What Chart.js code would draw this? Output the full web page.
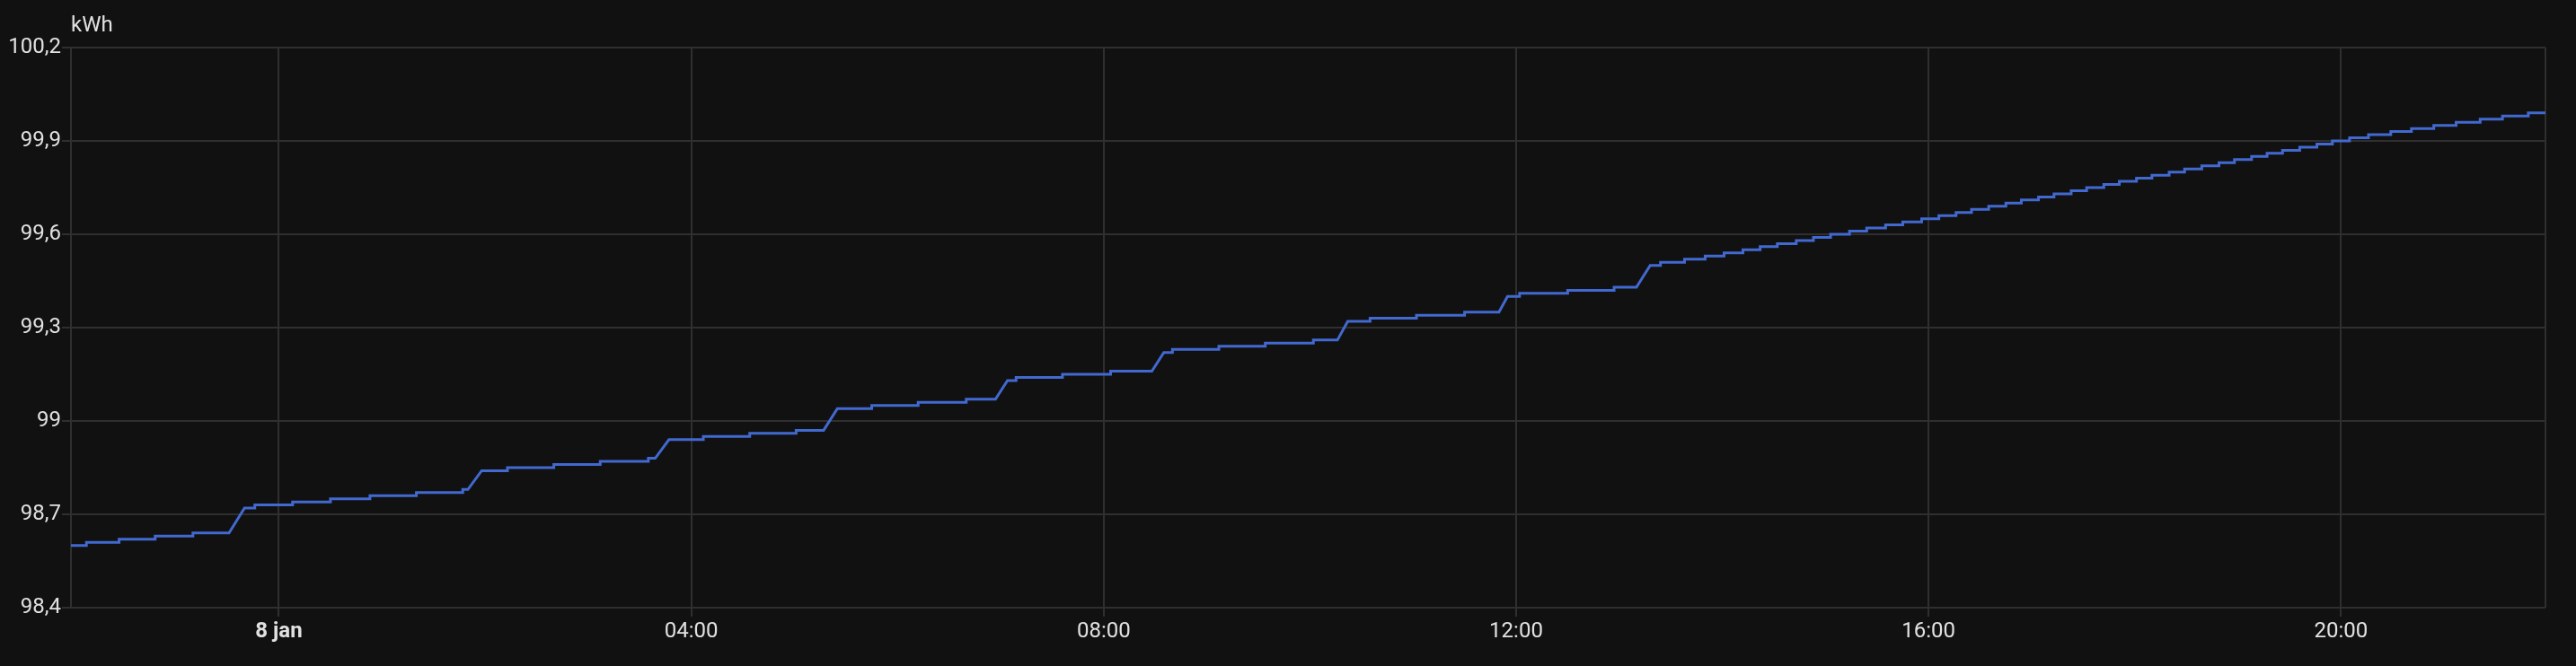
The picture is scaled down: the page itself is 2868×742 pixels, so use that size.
<!DOCTYPE html>
<html lang="nl">
<head>
<meta charset="UTF-8">
<title>Energie</title>
<script src="https://cdn.jsdelivr.net/npm/chart.js"></script>
<style>
  * { margin: 0; padding: 0; }
  body { background-color: #111111; }
  .grafiek { width: 2868px; height: 742px; position: relative; }
</style>
</head>
<body>
<div class="grafiek"><canvas id="energie"></canvas></div>
<script>
// meter readings: minutes since 8 jan 00:00 (negative = 7 jan) and kWh from that moment on
const readingMinutes = [
  -121, -112, -93, -72, -50, -29, -20, -14, 8, 30, 53, 80, 107, 110, 118,
  133, 160, 187, 215, 219, 227, 247, 274, 301, 317, 325, 345, 372, 400, 417, 424,
  429, 456, 484, 508, 515, 520, 547, 574, 602, 616, 622, 635, 662, 690, 710, 715,
  722, 750, 777, 790, 798,
  804, 818, 830, 841, 852, 862, 872, 883, 893, 903, 914, 924, 935, 945, 956, 966,
  976, 985, 995, 1005, 1014, 1024, 1033, 1043, 1052, 1062, 1071, 1081, 1090, 1100,
  1109, 1119, 1129, 1138, 1148, 1157, 1166, 1176, 1186, 1195, 1205, 1216, 1229, 1241,
  1254, 1267, 1281, 1294, 1309, 1319
];
const readingKwh = [
  98.60, 98.61, 98.62, 98.63, 98.64, 98.64, 98.72, 98.73, 98.74, 98.75, 98.76, 98.77, 98.78, 98.78, 98.84,
  98.85, 98.86, 98.87, 98.88, 98.88, 98.94, 98.95, 98.96, 98.97, 98.97, 99.04, 99.05, 99.06, 99.07, 99.07, 99.13,
  99.14, 99.15, 99.16, 99.16, 99.22, 99.23, 99.24, 99.25, 99.26, 99.26, 99.32, 99.33, 99.34, 99.35, 99.35, 99.40,
  99.41, 99.42, 99.43, 99.43, 99.50,
  99.51, 99.52, 99.53, 99.54, 99.55, 99.56, 99.57, 99.58, 99.59, 99.60, 99.61, 99.62, 99.63, 99.64, 99.65, 99.66,
  99.67, 99.68, 99.69, 99.70, 99.71, 99.72, 99.73, 99.74, 99.75, 99.76, 99.77, 99.78, 99.79, 99.80,
  99.81, 99.82, 99.83, 99.84, 99.85, 99.86, 99.87, 99.88, 99.89, 99.90, 99.91, 99.92, 99.93, 99.94,
  99.95, 99.96, 99.97, 99.98, 99.99, 99.99
];
// readings reached by a steady climb instead of a step
const rampEnds = [-20, 118, 227, 325, 424, 515, 622, 715, 798];

const xMin = -121, xMax = 1319;
const xTicks = [0, 240, 480, 720, 960, 1200];
const xLabels = ['8 jan', '04:00', '08:00', '12:00', '16:00', '20:00'];
const yTicks = [98.4, 98.7, 99, 99.3, 99.6, 99.9, 100.2];
const unit = 'kWh';

const gridColor = '#2f2f2f';
const textColor = '#e1e1e1';

let punten = [{ x: readingMinutes[0], y: readingKwh[0] }];
for (let i = 1; i < readingMinutes.length; i++) {
  if (!rampEnds.includes(readingMinutes[i])) {
    punten.push({ x: readingMinutes[i], y: readingKwh[i - 1] });
  }
  punten.push({ x: readingMinutes[i], y: readingKwh[i] });
}

const unitLabel = {
  id: 'unitLabel',
  afterDraw(chart) {
    const c = chart.ctx;
    c.save();
    c.font = '24px Roboto';
    c.fillStyle = textColor;
    c.textBaseline = 'alphabetic';
    c.fillText(unit, chart.chartArea.left, chart.chartArea.top - 18);
    c.restore();
  }
};

Chart.defaults.font.family = 'Roboto';
Chart.defaults.font.size = 24;
Chart.defaults.color = textColor;

new Chart(document.getElementById('energie'), {
  type: 'line',
  data: {
    datasets: [{
      data: punten,
      borderColor: '#4269d0',
      borderWidth: 3,
      pointRadius: 0,
      tension: 0,
      fill: false
    }]
  },
  options: {
    responsive: true,
    maintainAspectRatio: false,
    animation: false,
    layout: { padding: { top: 53, right: 34, left: 0, bottom: 0 } },
    plugins: { legend: { display: false }, tooltip: { enabled: false } },
    scales: {
      x: {
        type: 'linear',
        min: xMin,
        max: xMax,
        afterBuildTicks: s => { s.ticks = [xMin, ...xTicks, xMax].map(v => ({ value: v })); },
        afterFit: s => { s.height = 65; },
        border: { display: false },
        grid: {
          color: gridColor,
          lineWidth: 2,
          tickLength: 10,
          tickColor: ctx => (ctx.tick && (ctx.tick.value === xMin || ctx.tick.value === xMax)) ? 'rgba(0,0,0,0)' : gridColor
        },
        ticks: {
          autoSkip: false,
          maxRotation: 0,
          padding: 3,
          color: textColor,
          font: ctx => ({ family: 'Roboto', size: 24, weight: (ctx.tick && ctx.tick.value === 0) ? 'bold' : 'normal' }),
          callback: v => { const i = xTicks.indexOf(v); return i < 0 ? '' : xLabels[i]; }
        }
      },
      y: {
        min: yTicks[0],
        max: yTicks[yTicks.length - 1],
        afterBuildTicks: s => { s.ticks = yTicks.map(v => ({ value: v })); },
        afterFit: s => { s.width = 79; },
        border: { display: false },
        grid: { color: gridColor, lineWidth: 2, tickLength: 10 },
        ticks: {
          padding: 1,
          color: textColor,
          callback: v => String(v).replace('.', ',')
        }
      }
    }
  },
  plugins: [unitLabel]
});
</script>
</body>
</html>
